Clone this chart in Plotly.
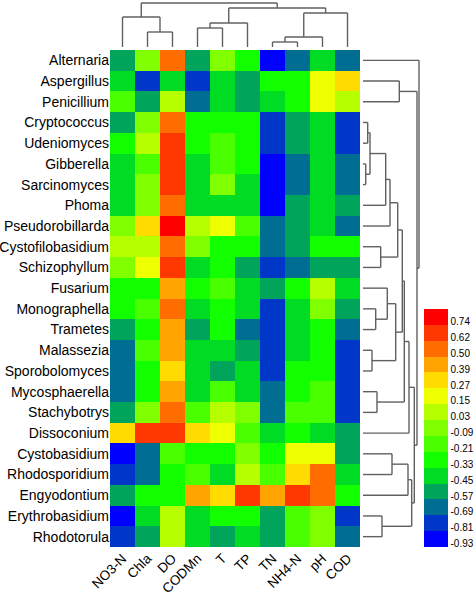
import plotly.graph_objects as go

# ---------------- data ----------------
genera = ["Alternaria", "Aspergillus", "Penicillium", "Cryptococcus", "Udeniomyces",
          "Gibberella", "Sarcinomyces", "Phoma", "Pseudorobillarda", "Cystofilobasidium",
          "Schizophyllum", "Fusarium", "Monographella", "Trametes", "Malassezia",
          "Sporobolomyces", "Mycosphaerella", "Stachybotrys", "Dissoconium", "Cystobasidium",
          "Rhodosporidium", "Engyodontium", "Erythrobasidium", "Rhodotorula"]
factors = ["NO3-N", "Chla", "DO", "CODMn", "T", "TP", "TN", "NH4-N", "pH", "COD"]

# correlation of each genus with each factor (column by column)
no3n  = [-0.57, -0.45, -0.21, -0.57, -0.33, -0.45, -0.45, -0.45, -0.09, 0.03, -0.09, -0.33,
         -0.33, -0.57, -0.69, -0.69, -0.69, -0.57, 0.27, -0.93, -0.81, -0.57, -0.93, -0.81]
chla  = [-0.09, -0.81, -0.57, -0.09, 0.03, -0.21, -0.09, -0.09, 0.27, 0.03, 0.15, -0.33,
         -0.21, -0.33, -0.21, -0.33, -0.33, -0.09, 0.62, -0.69, -0.69, -0.33, -0.45, -0.57]
do_   = [0.50, -0.45, 0.03, 0.50, 0.62, 0.62, 0.62, 0.50, 0.74, 0.50, 0.62, 0.39,
         0.50, 0.39, 0.39, 0.27, 0.39, 0.50, 0.62, -0.21, -0.33, -0.33, 0.03, 0.03]
codmn = [-0.57, -0.81, -0.69, -0.33, -0.33, -0.45, -0.45, -0.45, 0.03, -0.09, -0.45, -0.33,
         -0.45, -0.57, -0.45, -0.45, -0.45, -0.21, 0.27, -0.33, -0.21, 0.39, -0.45, -0.45]
temp  = [-0.09, -0.45, -0.45, -0.33, -0.21, -0.21, -0.09, -0.45, 0.15, -0.33, -0.33, -0.21,
         -0.33, -0.33, -0.45, -0.57, -0.21, 0.03, 0.15, -0.33, -0.45, 0.27, -0.33, -0.57]
tp    = [-0.33, -0.57, -0.57, -0.33, -0.33, -0.33, -0.45, -0.45, -0.21, -0.33, -0.57, -0.45,
         -0.45, -0.69, -0.57, -0.45, -0.45, -0.09, -0.21, -0.09, 0.03, 0.62, -0.33, -0.45]
tn    = [-0.93, -0.33, -0.45, -0.81, -0.81, -0.93, -0.93, -0.93, -0.69, -0.69, -0.81, -0.57,
         -0.81, -0.81, -0.81, -0.81, -0.69, -0.69, -0.45, -0.33, -0.21, 0.39, -0.57, -0.57]
nh4n  = [-0.69, -0.33, -0.33, -0.57, -0.57, -0.69, -0.69, -0.57, -0.57, -0.57, -0.69, -0.33,
         -0.45, -0.45, -0.45, -0.33, -0.33, -0.21, -0.33, 0.15, 0.27, 0.62, -0.21, -0.21]
ph    = [-0.45, 0.15, 0.15, -0.45, -0.45, -0.45, -0.45, -0.45, -0.45, -0.33, -0.57, 0.03,
         -0.09, -0.33, -0.33, -0.33, -0.21, -0.21, -0.45, 0.15, 0.50, 0.50, -0.09, -0.09]
cod   = [-0.69, 0.27, 0.03, -0.81, -0.81, -0.69, -0.69, -0.57, -0.69, -0.33, -0.57, -0.45,
         -0.57, -0.69, -0.81, -0.81, -0.81, -0.81, -0.57, -0.57, -0.45, -0.33, -0.81, -0.69]

legend_labels = ["-0.93", "-0.81", "-0.69", "-0.57", "-0.45", "-0.33", "-0.21", "-0.09",
                 "0.03", "0.15", "0.27", "0.39", "0.50", "0.62", "0.74"]
palette = ["#0000FF", "#0037C8", "#006D92", "#00A45B", "#00DB24", "#12FF00", "#49FF00",
           "#80FF00", "#B6FF00", "#EDFF00", "#FFDB00", "#FFA400", "#FF6D00", "#FF3700", "#FF0000"]

# hierarchical clustering (merge: left id, right id, height); leaves are 0..n-1
row_left   = [5, 3, 25, 14, 12, 16, 9, 22, 26, 11, 32, 19, 33, 34, 1, 37, 39, 35, 40, 41, 42, 38, 0]
row_right  = [6, 4, 24, 15, 13, 17, 10, 23, 7, 28, 8, 20, 27, 30, 2, 36, 29, 21, 18, 31, 43, 44, 45]
row_height = [2.7, 4.7, 7, 9, 12.7, 14, 17.7, 19, 22.7, 24.3, 27, 29, 32.7, 34.7, 36.3, 39.3,
              41.3, 45, 46, 48.7, 51.3, 54, 56]
col_left   = [6, 10, 1, 3, 13, 0, 11, 14, 15]
col_right  = [7, 8, 2, 4, 5, 12, 9, 16, 17]
col_height = [5, 10, 15, 19, 24, 30, 34, 39, 44]

# ---------------- figure ----------------
W, H = 474, 596
FONT = "Liberation Sans, Arial, sans-serif"
columns = [no3n, chla, do_, codmn, temp, tp, tn, nh4n, ph, cod]
z = [[columns[j][i] for j in range(len(factors))] for i in range(len(genera))]

nb = len(legend_labels)
lo, hi = float(legend_labels[0]), float(legend_labels[-1])
step = (hi - lo) / (nb - 1)
cmin, cmax = lo - step / 2, hi + step / 2
cscale = []
for k, c in enumerate(palette):
    cscale.append([k / nb, c])
    cscale.append([(k + 1) / nb, c])
tickvals = [lo + k * step - 0.29 * step for k in range(nb)]


def dendro_segments(n, left, right, height):
    pos = {i: float(i) for i in range(n)}
    hgt = {i: 0.0 for i in range(n)}
    segs = []
    for m, (a, b, h) in enumerate(zip(left, right, height)):
        nid = n + m
        segs.append(((hgt[a], pos[a]), (h, pos[a])))
        segs.append(((hgt[b], pos[b]), (h, pos[b])))
        segs.append(((h, pos[a]), (h, pos[b])))
        pos[nid] = (pos[a] + pos[b]) / 2
        hgt[nid] = h
    return segs


def px(v, total):
    return v / total

hx0, hx1 = px(110, W), px(360, W)
hy0, hy1 = 1 - px(547, H), 1 - px(50, H)

fig = go.Figure()
fig.add_trace(go.Heatmap(z=z, x=factors, y=genera, coloraxis="coloraxis",
                         xaxis="x", yaxis="y", hoverinfo="skip"))

# right dendrogram (rows)
rx, ry = [], []
for (h0, p0), (h1, p1) in dendro_segments(len(genera), row_left, row_right, row_height):
    rx += [h0, h1, None]
    ry += [p0, p1, None]
fig.add_trace(go.Scatter(x=rx, y=ry, mode="lines", xaxis="x3", yaxis="y3",
                         line=dict(color="#606060", width=1.4), hoverinfo="skip",
                         showlegend=False))

# top dendrogram (factors)
tx, ty = [], []
for (h0, p0), (h1, p1) in dendro_segments(len(factors), col_left, col_right, col_height):
    tx += [p0, p1, None]
    ty += [h0, h1, None]
fig.add_trace(go.Scatter(x=tx, y=ty, mode="lines", xaxis="x2", yaxis="y2",
                         line=dict(color="#606060", width=1.4), hoverinfo="skip",
                         showlegend=False))

hidden = dict(visible=False, showgrid=False, zeroline=False, fixedrange=True, automargin=False)
fig.update_layout(
    width=W, height=H,
    margin=dict(l=0, r=0, t=0, b=0, autoexpand=False),
    paper_bgcolor="white", plot_bgcolor="white",
    font=dict(family=FONT, color="black"),
    showlegend=False,
    xaxis=dict(domain=[hx0, hx1], tickangle=-45, ticks="", showgrid=False, zeroline=False,
               tickfont=dict(size=13.5, family=FONT, color="black"), showline=False,
               automargin=False),
    yaxis=dict(domain=[hy0, hy1], autorange="reversed", ticks="", showgrid=False,
               zeroline=False, tickfont=dict(size=14, family=FONT, color="black"),
               showline=False, automargin=False),
    xaxis2=dict(domain=[hx0, hx1], range=[-0.5, len(factors) - 0.5], anchor="y2", **hidden),
    yaxis2=dict(domain=[1 - px(47, H), 1.0], range=[0, 47], anchor="x2", **hidden),
    xaxis3=dict(domain=[px(363, W), px(423, W)], range=[0, 60], anchor="y3", **hidden),
    yaxis3=dict(domain=[hy0, hy1], range=[len(genera) - 0.5, -0.5], anchor="x3", **hidden),
    coloraxis=dict(
        colorscale=cscale, cmin=cmin, cmax=cmax,
        colorbar=dict(x=px(424, W), xanchor="left", y=1 - px(547, H), yanchor="bottom",
                      len=238, lenmode="pixels", thickness=24, xpad=0, ypad=0,
                      outlinewidth=0, ticks="", tickvals=tickvals, ticktext=legend_labels,
                      tickfont=dict(size=10, family=FONT, color="black")),
    ),
)

fig.write_html("out.html", config={"displayModeBar": False, "staticPlot": True},
               post_script="document.body.style.margin='0';")
